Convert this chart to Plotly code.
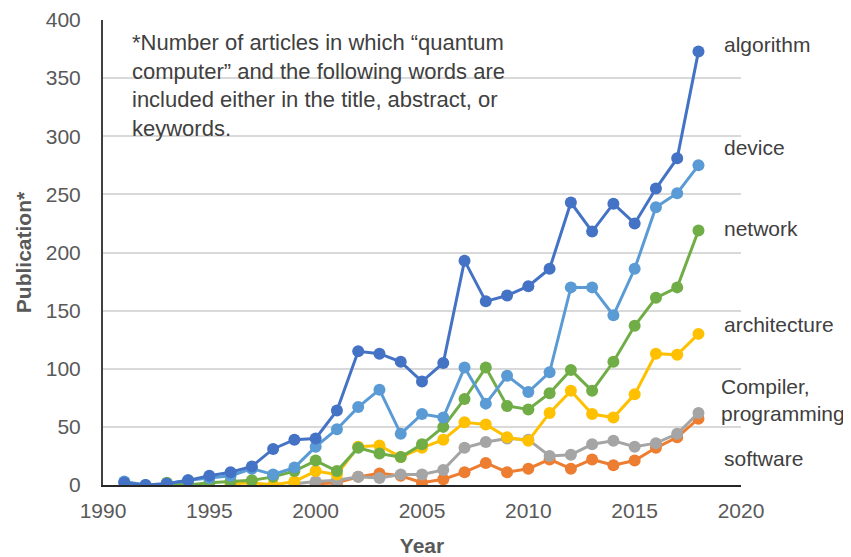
import plotly.graph_objects as go

years_all = list(range(1991, 2019))

algorithm = [2, 0, 1, 4, 8, 11, 16, 31, 39, 40, 64, 115, 113, 106, 89, 105, 193, 158, 163,
             171, 186, 243, 218, 242, 225, 255, 281, 373]
device = [3, 0, 1, 4, 6, 8, 14, 9, 15, 33, 48, 67, 82, 44, 61, 58, 101, 70, 94,
          80, 97, 170, 170, 146, 186, 239, 251, 275]

years_network = list(range(1993, 2019))
network = [2, 0, 2, 3, 4, 7, 12, 21, 12, 32, 27, 24, 35, 50, 74, 101, 68, 65,
           79, 99, 81, 106, 137, 161, 170, 219]

years_arch = list(range(1996, 2019))
architecture = [1, 2, 0, 3, 12, 9, 33, 34, 24, 32, 39, 54, 52, 41, 38, 62, 81, 61,
                58, 78, 113, 112, 130]

years_comp = list(range(1999, 2019))
compiler = [1, 3, 4, 7, 6, 9, 9, 13, 32, 37, 40, 39, 25, 26, 35, 38, 33, 36, 44, 62]

years_soft = list(range(2000, 2019))
software = [1, 2, 7, 10, 8, 2, 5, 11, 19, 11, 14, 22, 14, 22, 17, 21, 32, 41, 57]

series = [
    ("software", years_soft, software, "#ED7D31"),
    ("Compiler, programming", years_comp, compiler, "#A5A5A5"),
    ("architecture", years_arch, architecture, "#FFC000"),
    ("network", years_network, network, "#70AD47"),
    ("device", years_all, device, "#5B9BD5"),
    ("algorithm", years_all, algorithm, "#4472C4"),
]

# right-hand labels: text, x and y position (data units)
labels = [
    ("algorithm", 2019.1, 379),
    ("device", 2019.1, 290),
    ("network", 2019.1, 221),
    ("architecture", 2019.1, 138),
    ("Compiler,<br>programming", 2018.95, 73),
    ("software", 2019.1, 23),
]

fig = go.Figure()
for name, xs, ys, color in series:
    fig.add_trace(go.Scatter(
        x=xs, y=ys, mode="lines+markers", name=name,
        line=dict(color=color, width=3),
        marker=dict(color=color, size=12),
        showlegend=False,
    ))

for text, xv, yv in labels:
    fig.add_annotation(
        x=xv, y=yv, xref="x", yref="y", text=text, showarrow=False,
        xanchor="left", yanchor="middle", align="left",
        font=dict(size=21, color="#404040"),
    )

fig.add_annotation(
    x=0.043, y=0.982, xref="paper", yref="paper", showarrow=False,
    xanchor="left", yanchor="top", align="left",
    text=("*Number of articles in which \u201cquantum<br>"
          "computer\u201d and the following words are<br>"
          "included either in the title, abstract, or<br>"
          "keywords."),
    font=dict(size=22, color="#404040"),
)

# the page body has an 8px margin, so the figure is 8px smaller than the window
fig.update_layout(
    width=843, height=549,
    margin=dict(l=95, r=110, t=12, b=72),
    paper_bgcolor="white", plot_bgcolor="white",
    font=dict(family="Liberation Sans, Arial, sans-serif", color="#595959"),
    xaxis=dict(
        range=[1990, 2020], dtick=5, tick0=1990, showgrid=False,
        showline=True, linecolor="#262626", linewidth=2,
        tickfont=dict(size=21, color="#595959"),
        ticklabelstandoff=6, automargin=False,
        title=dict(text="<b>Year</b>", font=dict(size=21, color="#595959"), standoff=20),
        zeroline=False,
    ),
    yaxis=dict(
        range=[0, 400], dtick=50, showgrid=True, gridcolor="#D9D9D9", gridwidth=1.5,
        showline=True, linecolor="#404040", linewidth=2,
        tickfont=dict(size=21, color="#595959"),
        ticklabelstandoff=16, automargin=False,
        title=dict(text="<b>Publication*</b>", font=dict(size=21, color="#595959"), standoff=8),
        zeroline=False,
    ),
)

fig.write_html("out.html")
